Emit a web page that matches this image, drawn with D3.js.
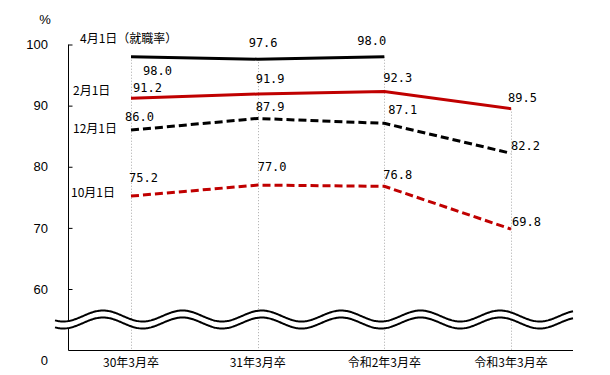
<!DOCTYPE html>
<html><head><meta charset="utf-8">
<script src="https://cdn.jsdelivr.net/npm/d3@7"></script>
<style>body{margin:0;background:#fff}</style>
</head><body>
<svg id="c" width="610" height="375"></svg>
<script>
const categories = ["30年3月卒", "31年3月卒", "令和2年3月卒", "令和3年3月卒"];
const seriesNames = ["4月1日（就職率）", "2月1日", "12月1日", "10月1日"];
const apr1 = [98.0, 97.6, 98.0, null];
const feb1 = [91.2, 91.9, 92.3, 89.5];
const dec1 = [86.0, 87.9, 87.1, 82.2];
const oct1 = [75.2, 77.0, 76.8, 69.8];
const yTicks = [60, 70, 80, 90, 100];

// styling / label layout (offsets relative to point)
const styles = [
  {color:"#000", dash:null, labelOff:[[12,14],[-9,-16],[-27,-16]], nameXY:[80,39]},
  {color:"#c00000", dash:null, labelOff:[[2,-11],[-2,-15.5],[-1,-14],[-3,-11.5]], nameXY:[73,91]},
  {color:"#000", dash:"8,4", labelOff:[[-6,-13],[-2,-12],[4,-14],[0,-8]], nameXY:[73,129]},
  {color:"#c00000", dash:"8,4", labelOff:[[-2,-18],[0,-18],[-1,-12],[1,-7]], nameXY:[71,193]}
];
const allSeries = [apr1, feb1, dec1, oct1];

const svg = d3.select("#c");
const x = d3.scalePoint().domain(categories).range([131, 511]);
const y = d3.scaleLinear().domain([60, 100]).range([289, 44.5]);
const axisLeftX = 68.5, axisBottomY = 350.5, axisRightX = 573;

const cjk = "'Noto Sans CJK JP', sans-serif";
const mono = "'DejaVu Sans Mono', monospace";

// drop lines
categories.forEach((c, i) => {
  const vals = allSeries.map(s => s[i]).filter(v => v != null);
  const top = d3.max(vals);
  svg.append("line")
    .attr("x1", Math.round(x(c)) + 0.5).attr("x2", Math.round(x(c)) + 0.5)
    .attr("y1", y(top)).attr("y2", axisBottomY)
    .attr("stroke", "#aaa").attr("stroke-width", 1).attr("stroke-dasharray", "1,2");
});

// y axis
const yAxis = d3.axisRight(y).tickValues(yTicks).tickSize(4).tickFormat("");
const gy = svg.append("g").attr("transform", `translate(${axisLeftX},0)`).call(yAxis);
gy.select(".domain").remove();
gy.selectAll("line").attr("stroke", "#000");
svg.append("line").attr("x1", axisLeftX).attr("x2", axisLeftX)
  .attr("y1", y(100)).attr("y2", axisBottomY).attr("stroke", "#000");
yTicks.forEach(t => {
  svg.append("text").attr("x", 48).attr("y", y(t)).attr("dy", "0.36em")
    .attr("text-anchor", "end").attr("font-family", "'Liberation Sans', sans-serif")
    .attr("font-size", 13).text(t);
});
svg.append("text").attr("x", 48).attr("y", 360).attr("dy", "0.36em")
  .attr("text-anchor", "end").attr("font-family", "'Liberation Sans', sans-serif")
  .attr("font-size", 13).text(0);
svg.append("text").attr("x", 45).attr("y", 19).attr("dy", "0.36em")
  .attr("text-anchor", "middle").attr("font-family", "'Liberation Sans', sans-serif")
  .attr("font-size", 13).text("%");

// x axis
svg.append("line").attr("x1", axisLeftX).attr("x2", axisRightX)
  .attr("y1", axisBottomY).attr("y2", axisBottomY).attr("stroke", "#000");
categories.forEach(c => {
  svg.append("text").attr("x", x(c)).attr("y", 363).attr("dy", "0.36em")
    .attr("text-anchor", "middle").attr("font-family", cjk).attr("font-size", 12)
    .text(c);
});

// wave break
const period = 79.4, peakX = 103, amp = 5.5;
const wx = d3.range(55, 574, 1);
const wave = (c) => wx.map(px => [px, c - amp * Math.cos(2 * Math.PI * (px - peakX) / period)]);
const upper = wave(316), lower = wave(323);
const area = d3.area().x(d => d[0]).y0(d => d[1]).y1((d, i) => lower[i][1]);
svg.append("path").datum(upper).attr("d", area).attr("fill", "#fff");
const wl = d3.line();
[upper, lower].forEach(w => svg.append("path").attr("d", wl(w))
  .attr("fill", "none").attr("stroke", "#000").attr("stroke-width", 2));

// series
const line = d3.line().defined(d => d.v != null).x(d => x(d.c)).y(d => y(d.v));
allSeries.forEach((s, k) => {
  const st = styles[k];
  const pts = s.map((v, i) => ({c: categories[i], v}));
  svg.append("path").datum(pts).attr("d", line).attr("fill", "none")
    .attr("stroke", st.color).attr("stroke-width", 3)
    .attr("stroke-dasharray", st.dash);
  pts.filter(d => d.v != null).forEach((d, i) => {
    const off = st.labelOff[i];
    svg.append("text").attr("x", x(d.c) + off[0]).attr("y", y(d.v) + off[1])
      .attr("dy", "0.36em").attr("font-family", mono).attr("font-size", 12)
      .attr("fill", "#000").text(d3.format(".1f")(d.v));
  });
  svg.append("text").attr("x", st.nameXY[0]).attr("y", st.nameXY[1]).attr("dy", "0.36em")
    .attr("font-family", cjk).attr("font-size", 12).attr("fill", "#000")
    .text(seriesNames[k]);
});
</script>
</body></html>
